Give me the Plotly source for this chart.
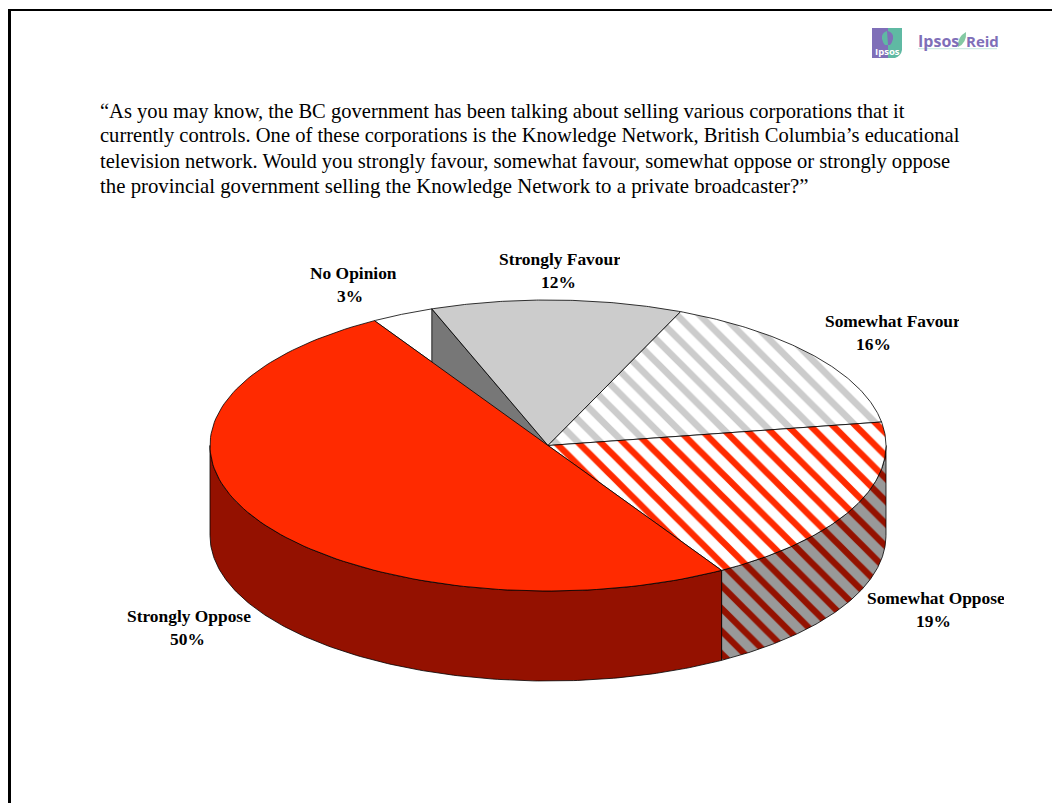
import numpy as np
import plotly.graph_objects as go

# Survey results, clockwise from the first slice
categories = ["Strongly Favour", "Somewhat Favour", "Somewhat Oppose", "Strongly Oppose", "No Opinion"]
values = [12, 16, 19, 50, 3]

question_lines = [
    "“As you may know, the BC government has been talking about selling various corporations that it",
    "currently controls. One of these corporations is the Knowledge Network, British Columbia’s educational",
    "television network. Would you strongly favour, somewhat favour, somewhat oppose or strongly oppose",
    "the provincial government selling the Knowledge Network to a private broadcaster?”",
]
question_y = [111, 135, 161, 186]
question_size = [20.55, 20.55, 20.57, 20.82]

# Label centres (name line x, name line y, percent line x, percent line y)
label_pos = {
    "Strongly Favour": (560, 259, 558, 282),
    "Somewhat Favour": (893, 321, 873, 344),
    "Somewhat Oppose": (935.5, 598, 933, 621),
    "Strongly Oppose": (188.5, 616, 187, 639),
    "No Opinion": (353.5, 273, 350, 296),
}

# Disc geometry on the page
CX, CY, RX, RY, DEPTH = 548.0, 445.5, 338.0, 145.5, 90.0
START = -20.1
SERIF = "Liberation Serif"
EDGE = dict(color="#000000", width=0.8)

RED = "#FF2A00"
DARK_RED = "#941100"


def rim(t):
    """Point on the top rim for an angle in degrees, clockwise from 12 o'clock."""
    t = np.radians(t)
    return CX + RX * np.sin(t), CY - RY * np.cos(t)


def top_slice(a, b):
    xs, ys = rim(np.linspace(a, b, 120))
    return np.r_[CX, xs, CX], np.r_[CY, ys, CY]


def side_band(a, b):
    xs, ys = rim(np.linspace(a, b, 160))
    return np.r_[xs, xs[::-1], xs[0]], np.r_[ys, ys[::-1] + DEPTH, ys[0]]


def poly(xs, ys, fillcolor=None, pattern=None):
    return go.Scatter(
        x=xs, y=ys, mode="lines", fill="toself", line=EDGE,
        fillcolor=fillcolor, fillpattern=pattern, hoverinfo="skip", showlegend=False,
    )


def hatch(fg, bg, solidity):
    return dict(shape="\\", fgcolor=fg, bgcolor=bg, size=16, solidity=solidity, fgopacity=1)


# Slice boundaries follow directly from the values
edges = START + np.cumsum([0] + values) * 3.6
span = dict(zip(categories, zip(edges[:-1], edges[1:])))

fig = go.Figure()

# Outer wall of the front-facing slices
a, b = span["Somewhat Oppose"]
fig.add_trace(poly(*side_band(90, b), pattern=hatch(DARK_RED, "#999999", 0.4)))
a, b = span["Strongly Oppose"]
fig.add_trace(poly(*side_band(a, 270), fillcolor=DARK_RED))

# No Opinion top, then the cut wall behind the red slice
fig.add_trace(poly(*top_slice(*span["No Opinion"]), fillcolor="#FFFFFF"))
wx, wy = rim(START)
fig.add_trace(poly([wx, CX, CX, wx, wx], [wy, CY, CY + DEPTH, wy + DEPTH, wy], fillcolor="#777777"))

# Remaining top faces
fig.add_trace(poly(*top_slice(*span["Strongly Favour"]), fillcolor="#CCCCCC"))
fig.add_trace(poly(*top_slice(*span["Somewhat Favour"]), pattern=hatch("#CCCCCC", "#FFFFFF", 0.42)))
fig.add_trace(poly(*top_slice(*span["Somewhat Oppose"]), pattern=hatch(RED, "#FFFFFF", 0.4)))
fig.add_trace(poly(*top_slice(*span["Strongly Oppose"]), fillcolor=RED))

annotations = []


def text(x, y, s, size, color="#000000", family=SERIF, bold=False, anchor="center"):
    annotations.append(dict(
        x=x, y=y, xref="x", yref="y", text=f"<b>{s}</b>" if bold else s, showarrow=False,
        xanchor=anchor, yanchor="middle", font=dict(family=family, size=size, color=color),
    ))


for line, y, size in zip(question_lines, question_y, question_size):
    text(98, y, line, size, anchor="left")

for name, val in zip(categories, values):
    nx, ny, px, py = label_pos[name]
    text(nx, ny, name, 17.4, bold=True)
    text(px, py, f"{val}%", 17.4, bold=True)

# Label boxes cut the last letter of the longer names
for x_left, y_mid in [(619.5, 259), (959, 321), (1004, 598)]:
    annotations.append(dict(
        x=x_left, y=y_mid, xref="x", yref="y", text=" ", showarrow=False, xanchor="left", yanchor="middle",
        width=6, height=20, bgcolor="#FFFFFF", borderpad=0, borderwidth=0,
    ))

# Ipsos wordmark
PURPLE = "#7F6FB8"
TEAL = "#5FB9A3"
text(916, 40.5, "Ipsos", 16, color=PURPLE, family="Open Sans", bold=True, anchor="left")
text(964, 40.5, "Reid", 15, color=PURPLE, family="Open Sans", bold=True, anchor="left")
text(887, 51, "Ipsos", 9.5, color="#FFFFFF", family="Open Sans", bold=True)

shapes = [
    # Page frame
    dict(type="rect", x0=8, x1=11, y0=9, y1=803, fillcolor="#000000", line_width=0),
    dict(type="rect", x0=8, x1=1052, y0=9, y1=11, fillcolor="#000000", line_width=0),
    # Logo tile and head
    dict(type="rect", x0=872, x1=888, y0=28, y1=58, fillcolor=PURPLE, line_width=0),
    dict(type="path", path="M 888 28 L 902 28 L 902 50 Q 901 56 895 58 L 888 58 Z", fillcolor=TEAL, line_width=0),
    dict(type="path", path="M 887 31 Q 881 33 882 39 Q 883 43 885 45 L 888 45 Z", fillcolor=TEAL, line_width=0),
    dict(type="path", path="M 888 31 Q 894 33 893 39 Q 892 43 890 45 L 888 45 Z", fillcolor=PURPLE, line_width=0),
    # Leaf and underline of the wordmark
    dict(type="path", path="M 958 47 Q 957 37 966 32 Q 967 43 958 47 Z", fillcolor="#84C9A3", line_width=0),
    dict(type="rect", x0=918, x1=997, y0=48, y1=49.2, fillcolor="#CFEBE3", line_width=0),
]

fig.update_layout(
    width=1052, height=803, margin=dict(l=0, r=0, t=0, b=0),
    paper_bgcolor="#FFFFFF", plot_bgcolor="#FFFFFF",
    xaxis=dict(range=[0, 1052], visible=False, fixedrange=True),
    yaxis=dict(range=[803, 0], visible=False, fixedrange=True),
    annotations=annotations, shapes=shapes, showlegend=False,
)

fig.write_html("out.html", config=dict(displayModeBar=False))
